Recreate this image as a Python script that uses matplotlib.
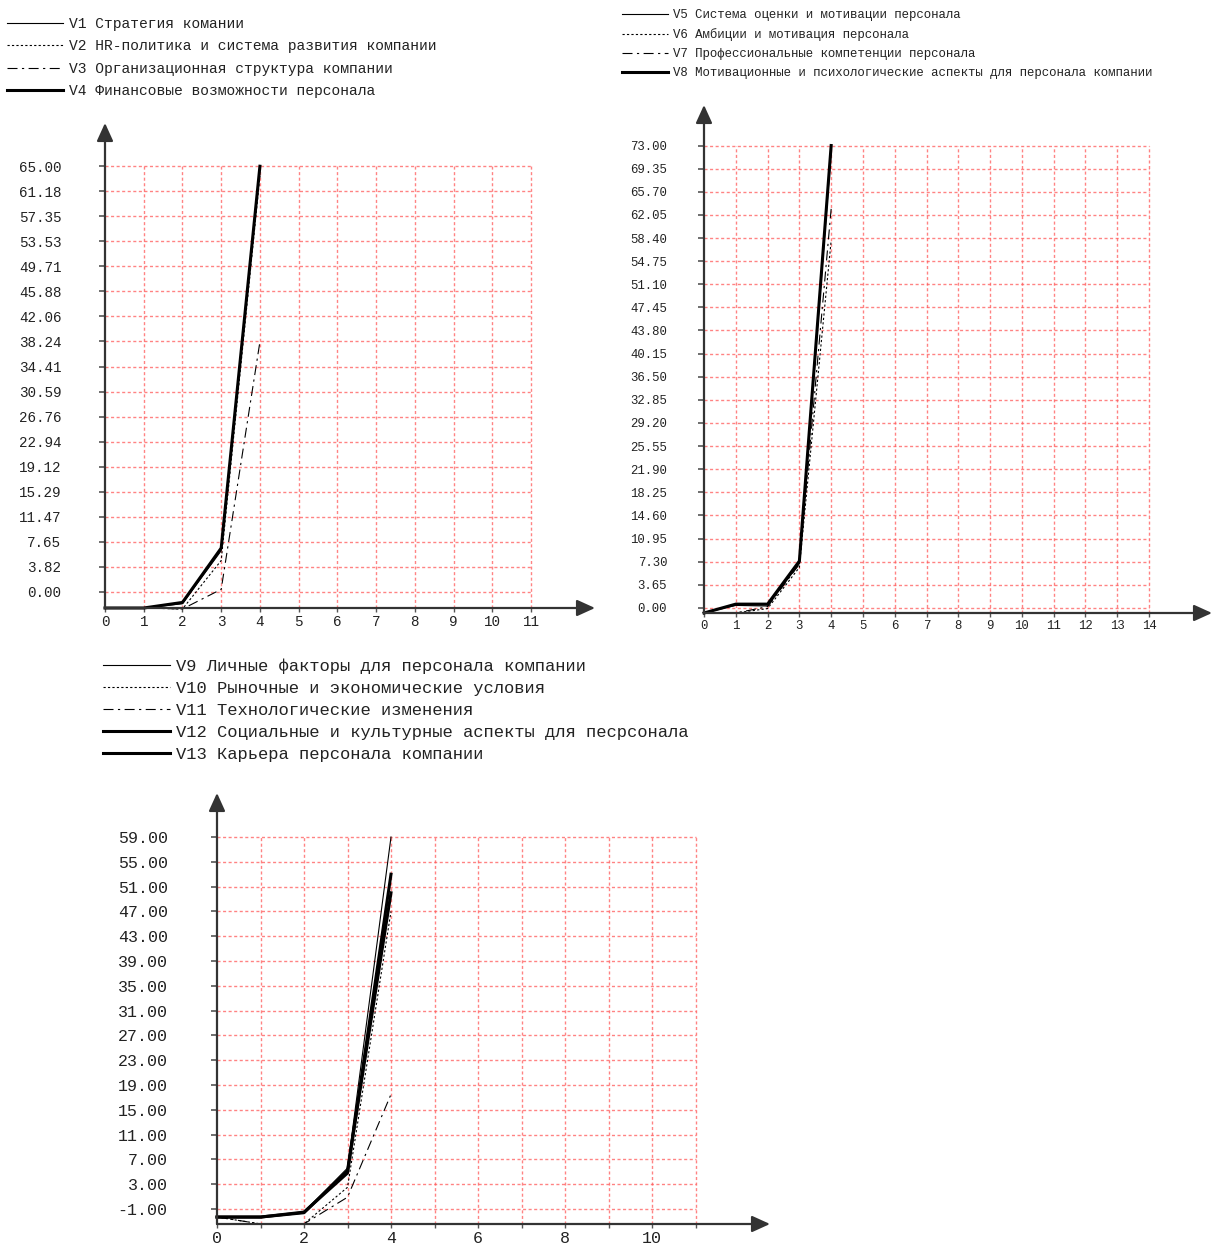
import numpy as np
import matplotlib
matplotlib.use("Agg")
import matplotlib.pyplot as plt

plt.rcParams['font.family'] = ['Liberation Mono', 'DejaVu Sans Mono']

STEPS = [0, 1, 2, 3, 4]

# --- chart 1 ---
NAMES_1 = ["V1 Стратегия комании",
           "V2 HR-политика и система развития компании",
           "V3 Организационная структура компании",
           "V4 Финансовые возможности персонала"]
V1 = [-2.45, -2.45, -1.8, 6.3, 64.5]
V2 = [-2.45, -2.45, -2.6, 4.8, 63.5]
V3 = [-2.45, -2.45, -2.6, 0.4, 38.2]
V4 = [-2.45, -2.45, -1.6, 6.7, 65.0]
YT_1 = [0.00, 3.82, 7.65, 11.47, 15.29, 19.12, 22.94, 26.76, 30.59, 34.41,
        38.24, 42.06, 45.88, 49.71, 53.53, 57.35, 61.18, 65.00]
XT_1 = list(range(0, 12))
XL_1 = [str(v) for v in XT_1]

# --- chart 2 ---
NAMES_2 = ["V5 Система оценки и мотивации персонала",
           "V6 Амбиции и мотивация персонала",
           "V7 Профессиональные компетенции персонала",
           "V8 Мотивационные и психологические аспекты для персонала компании"]
V5 = [-0.8, 0.4, 0.3, 7.0, 72.0]
V6 = [-0.8, -0.8, -0.1, 6.4, 58.0]
V7 = [-0.8, -0.8, 0.2, 6.9, 63.0]
V8 = [-0.8, 0.6, 0.6, 7.4, 73.0]
YT_2 = [0.00, 3.65, 7.30, 10.95, 14.60, 18.25, 21.90, 25.55, 29.20, 32.85,
        36.50, 40.15, 43.80, 47.45, 51.10, 54.75, 58.40, 62.05, 65.70, 69.35, 73.00]
XT_2 = list(range(0, 15))
XL_2 = [str(v) for v in XT_2]

# --- chart 3 ---
NAMES_3 = ["V9 Личные факторы для персонала компании",
           "V10 Рыночные и экономические условия",
           "V11 Технологические изменения",
           "V12 Социальные и культурные аспекты для песрсонала",
           "V13 Карьера персонала компании"]
V9 = [-2.3, -2.3, -1.5, 5.6, 59.0]
V10 = [-2.3, -3.4, -3.4, 2.5, 47.0]
V11 = [-2.3, -3.4, -3.4, 0.9, 17.5]
V12 = [-2.3, -2.3, -1.5, 4.8, 53.0]
V13 = [-2.3, -2.3, -1.6, 5.2, 50.0]
YT_3 = [-1.00, 3.00, 7.00, 11.00, 15.00, 19.00, 23.00, 27.00, 31.00, 35.00,
        39.00, 43.00, 47.00, 51.00, 55.00, 59.00]
XT_3 = list(range(0, 12))
XL_3 = [str(v) if v % 2 == 0 else "" for v in XT_3]

THIN = dict(color='black', lw=0.8, ls='-')
DOT = dict(color='black', lw=0.8, ls=(0, (2, 2)))
DASHDOT = dict(color='black', lw=0.8, ls=(0, (9, 4, 2, 4)))
THICK = dict(color='black', lw=2.2, ls='-')

GRID = dict(color='#ff5a5a', lw=1.0, ls=(0, (2.2, 1.8)), alpha=0.75, zorder=1)
AXIS_GRAY = '#555555'

W, H = 1215, 1248
fig = plt.figure(figsize=(W / 100, H / 100), dpi=100)


def px_axes(x0, y_top, x1, y_bot):
    # axes placed by pixel box of the reference
    return fig.add_axes([x0 / W, 1 - y_bot / H, (x1 - x0) / W, (y_bot - y_top) / H])


def draw_chart(ax, series, styles, names, xt, xl, yt, xlim, ylim, grid_x, fs, ypad, leg):
    ax.set_xlim(*xlim)
    ax.set_ylim(*ylim)
    for s in ax.spines.values():
        s.set_visible(False)
    # grid
    ax.vlines(xt[1:grid_x + 1], ylim[0], yt[-1], **GRID)
    ax.hlines(yt, 0, grid_x, **GRID)
    handles = []
    for vals, st, nm in zip(series, styles, names):
        h, = ax.plot(STEPS, vals, label=nm, zorder=3, clip_on=False, **st)
        handles.append(h)
    # axes with arrows
    arrow = dict(arrowstyle='-|>,head_length=11,head_width=5', color='#333333',
                 lw=1.6, shrinkA=0, shrinkB=0, mutation_scale=1)
    ax.annotate('', xy=(0, 1), xytext=(0, 0), xycoords='axes fraction',
                arrowprops=arrow, zorder=5)
    ax.annotate('', xy=(1, 0), xytext=(0, 0), xycoords='axes fraction',
                arrowprops=arrow, zorder=5)
    ax.set_yticks(yt)
    ax.set_yticklabels([f"{v:.2f}" for v in yt])
    ax.set_xticks(xt)
    ax.set_xticklabels(xl)
    ax.tick_params(axis='y', length=4.5, width=1.2, color=AXIS_GRAY, pad=ypad,
                   labelsize=fs, labelcolor='#222222')
    ax.tick_params(axis='x', length=3, width=1.0, color=AXIS_GRAY, pad=2,
                   labelsize=fs, labelcolor='#222222')
    x0, y0, lfs, hl, tp, lsp = leg
    ax.legend(handles=handles, loc='upper left', bbox_to_anchor=(x0 / W, 1 - y0 / H),
              bbox_transform=fig.transFigure, frameon=False, fontsize=lfs,
              handlelength=hl, handletextpad=tp, labelspacing=lsp,
              borderpad=0, borderaxespad=0, labelcolor='#222222')


ax1 = px_axes(105, 123, 595, 608)
draw_chart(ax1, [V1, V2, V3, V4], [THIN, DOT, DASHDOT, THICK], NAMES_1,
           XT_1, XL_1, YT_1, (0, 490 / 38.73), (-2.45, 71.6), 11, 10.3, 27,
           (7, 17, 10.5, 3.85, 0.4, 0.57))

ax2 = px_axes(704, 105, 1212, 613)
draw_chart(ax2, [V5, V6, V7, V8], [THIN, DOT, DASHDOT, THICK], NAMES_2,
           XT_2, XL_2, YT_2, (0, 508 / 31.79), (-0.8, 79.4), 14, 8.9, 22,
           (622, 9, 8.9, 3.7, 0.45, 0.58))

ax3 = px_axes(217, 793, 770, 1224)
draw_chart(ax3, [V9, V10, V11, V12, V13], [THIN, DOT, DASHDOT, THICK, THICK], NAMES_3,
           XT_3, XL_3, YT_3, (0, 553 / 43.5), (-3.42, 66.1), 11, 12, 31,
           (103, 658, 12.3, 3.9, 0.35, 0.41))

fig.savefig("out.png", dpi=100)
